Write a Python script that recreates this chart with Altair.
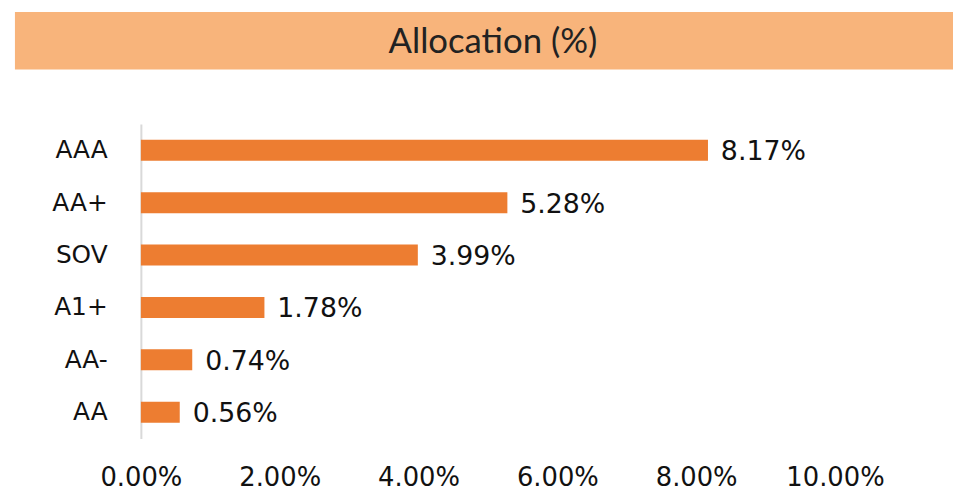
import altair as alt
import pandas as pd

categories = ["AAA", "AA+", "SOV", "A1+", "AA-", "AA"]
values = [8.17, 5.28, 3.99, 1.78, 0.74, 0.56]
x_ticks = [0, 2, 4, 6, 8, 10]
title_text = "Allocation (%)"

df = pd.DataFrame({"cat": categories, "val": values})
df["label"] = [f"{v:.2f}%" for v in values]

W, H = 700, 317
BAR = "#ED7D31"
BANNER = "#F8B47B"

x_enc = alt.X("val:Q", scale=alt.Scale(domain=[0, 10], nice=False),
              axis=alt.Axis(values=x_ticks, labelExpr="format(datum.value, '.2f') + '%'",
                            domain=False, ticks=False, grid=False, title=None,
                            labelFont="DejaVu Sans", labelFontSize=26, labelColor="#111111",
                            labelPadding=27, labelFlush=False, labelOverlap=False))
y_enc = alt.Y("cat:N", sort=categories,
              scale=alt.Scale(paddingInner=0.6, paddingOuter=0.3),
              axis=alt.Axis(title=None, ticks=False, domain=True, domainColor="#D9D9D9",
                            domainWidth=2, labelFont="DejaVu Sans", labelFontSize=25,
                            labelColor="#111111", labelPadding=34))

bars = alt.Chart(df).mark_bar(color=BAR).encode(x=x_enc, y=y_enc)
labels = alt.Chart(df).mark_text(align="left", baseline="middle", dx=13, dy=2,
                                 font="DejaVu Sans", fontSize=27, color="#111111").encode(
    x="val:Q", y=alt.Y("cat:N", sort=categories), text="label:N")

banner_df = pd.DataFrame({"t": [title_text]})
banner = alt.Chart(banner_df).mark_rect(color=BANNER).encode(
    x=alt.value(-127), x2=alt.value(900), y=alt.value(-113), y2=alt.value(-55))
title = alt.Chart(banner_df).mark_text(font="Lato", fontSize=35, color="#222222",
                                       align="center", baseline="middle").encode(
    x=alt.value(355), y=alt.value(-83), text="t:N")

chart = alt.layer(banner, title, bars, labels).properties(
    width=W, height=H,
    background="white",
    autosize=alt.AutoSizeParams(type="none"),
    padding={"left": 134, "top": 115, "right": 119, "bottom": 52},
).configure_view(strokeWidth=0, stroke=None)

chart.save("out.html", embed_options={"renderer": "svg", "actions": False})
